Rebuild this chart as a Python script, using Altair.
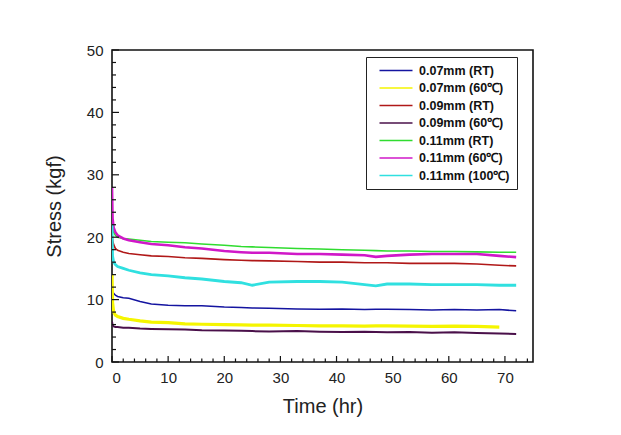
import altair as alt
import pandas as pd

series = ["0.07mm (RT)", "0.07mm (60℃)", "0.09mm (RT)", "0.09mm (60℃)",
          "0.11mm (RT)", "0.11mm (60℃)", "0.11mm (100℃)"]
colors = ["#1414A0", "#F5F500", "#B01818", "#4A104A", "#30DC30", "#D018C8", "#30E0E0"]
widths = [1.5, 3.2, 1.6, 2.0, 1.6, 2.6, 2.8]

time = [0, 0.1, 0.3, 0.6, 1, 2, 3, 5, 7, 10, 13, 16, 20, 23, 25, 28, 33, 37, 41,
        45, 47, 49, 53, 57, 61, 65, 69, 72]

blue_07_rt = [11.5, 11.2, 11.0, 10.7, 10.5, 10.3, 10.2, 9.7, 9.3, 9.1, 9.0, 9.0, 8.8, 8.75,
              8.65, 8.6, 8.5, 8.45, 8.5, 8.4, 8.45, 8.45, 8.4, 8.35, 8.4, 8.35, 8.4, 8.2]
yellow_07_60 = [14.0, 9.5, 8.0, 7.5, 7.3, 7.0, 6.85, 6.6, 6.4, 6.3, 6.1, 6.05, 6.0, 5.95,
                5.9, 5.9, 5.85, 5.8, 5.8, 5.75, 5.8, 5.8, 5.75, 5.7, 5.75, 5.7, 5.6, None]
red_09_rt = [20.5, 19.5, 18.8, 18.2, 17.9, 17.6, 17.4, 17.2, 17.0, 16.9, 16.7, 16.6, 16.4, 16.3,
             16.25, 16.2, 16.1, 16.0, 16.0, 15.9, 15.9, 15.9, 15.8, 15.8, 15.8, 15.7, 15.5, 15.4]
purple_09_60 = [6.5, 5.9, 5.7, 5.6, 5.6, 5.5, 5.5, 5.35, 5.3, 5.25, 5.2, 5.1, 5.05, 5.0,
                4.95, 4.9, 4.95, 4.85, 4.8, 4.85, 4.8, 4.75, 4.8, 4.7, 4.75, 4.65, 4.55, 4.5]
green_11_rt = [22.0, 21.5, 20.8, 20.3, 20.0, 19.8, 19.7, 19.5, 19.3, 19.2, 19.1, 18.9, 18.7, 18.5,
               18.45, 18.35, 18.2, 18.1, 18.0, 17.9, 17.85, 17.8, 17.8, 17.7, 17.7, 17.65, 17.6, 17.6]
magenta_11_60 = [28.0, 23.0, 21.5, 20.8, 20.3, 19.8, 19.5, 19.2, 18.9, 18.7, 18.4, 18.2, 17.8, 17.6,
                 17.5, 17.5, 17.3, 17.3, 17.2, 17.1, 16.85, 17.0, 17.2, 17.3, 17.3, 17.3, 17.0, 16.8]
cyan_11_100 = [22.0, 17.0, 16.0, 15.6, 15.3, 15.0, 14.7, 14.3, 14.0, 13.8, 13.5, 13.3, 12.9, 12.7,
               12.3, 12.8, 12.9, 12.9, 12.8, 12.4, 12.2, 12.5, 12.5, 12.4, 12.4, 12.4, 12.3, 12.3]

values = [blue_07_rt, yellow_07_60, red_09_rt, purple_09_60, green_11_rt, magenta_11_60, cyan_11_100]

rows = []
for name, vals in zip(series, values):
    for t, v in zip(time, vals):
        if v is not None:
            rows.append({"series": name, "time": t, "stress": v})
df = pd.DataFrame(rows)

x_major = [0, 10, 20, 30, 40, 50, 60, 70]
x_minor = [v for v in range(2, 75, 2) if v % 10 != 0]
y_major = [0, 10, 20, 30, 40, 50]
y_minor = [v for v in range(2, 50, 2) if v % 10 != 0]

W, H = 421, 312
FONT = "Liberation Sans"

xs = alt.Scale(domain=[0, 75], nice=False)
ys = alt.Scale(domain=[0, 50], nice=False)
cs = alt.Scale(domain=series, range=colors)

x_axis = alt.Axis(values=x_major, ticks=False, grid=False, domain=False,
                  labelPadding=8, labelFontSize=15, labelFont=FONT, labelColor="#222",
                  titleFont=FONT, titleFontSize=20, titleFontWeight="normal",
                  titleColor="#222", titlePadding=11)
y_axis = alt.Axis(values=y_major, ticks=False, grid=False, domain=False,
                  labelPadding=9, labelFontSize=15, labelFont=FONT, labelColor="#222",
                  titleFont=FONT, titleFontSize=20, titleFontWeight="normal",
                  titleColor="#222", titlePadding=22)
legend = alt.Legend(orient="none", legendX=254, legendY=7,
                    symbolType="M0,0H6", symbolSize=121,
                    symbolStrokeWidth=1.6, labelFont=FONT,
                    labelFontSize=12.5, labelFontWeight="bold",
                    labelColor="#111", labelOffset=33, rowPadding=4.5,
                    padding=7, strokeColor="#222", fillColor="white",
                    labelLimit=200)

line_layers = []
for name, w in zip(series, widths):
    line_layers.append(
        alt.Chart(df).transform_filter(alt.datum.series == name)
        .mark_line(clip=True, strokeWidth=w).encode(
            x=alt.X("time:Q", scale=xs, title="Time (hr)", axis=x_axis),
            y=alt.Y("stress:Q", scale=ys, title="Stress (kgf)", axis=y_axis),
            color=alt.Color("series:N", scale=cs, sort=series, title=None, legend=legend),
            order="time:Q",
        )
    )

xmaj = alt.Chart(pd.DataFrame({"v": x_major})).mark_rule(color="#111", strokeWidth=1.2).encode(
    x=alt.X("v:Q", scale=xs, title="Time (hr)", axis=x_axis), y=alt.value(H), y2=alt.value(H - 6))
xmin = alt.Chart(pd.DataFrame({"v": x_minor})).mark_rule(color="#111", strokeWidth=1.2).encode(
    x=alt.X("v:Q", scale=xs, title="Time (hr)", axis=x_axis), y=alt.value(H), y2=alt.value(H - 3.5))
ymaj = alt.Chart(pd.DataFrame({"v": y_major})).mark_rule(color="#111", strokeWidth=1.2).encode(
    y=alt.Y("v:Q", scale=ys, title="Stress (kgf)", axis=y_axis), x=alt.value(0), x2=alt.value(7))
ymin = alt.Chart(pd.DataFrame({"v": y_minor})).mark_rule(color="#111", strokeWidth=1.2).encode(
    y=alt.Y("v:Q", scale=ys, title="Stress (kgf)", axis=y_axis), x=alt.value(0), x2=alt.value(4))

chart = alt.layer(*line_layers, xmaj, xmin, ymaj, ymin).properties(
    width=W, height=H,
    autosize=alt.AutoSizeParams(type="none"),
    padding={"left": 104, "top": 42, "right": 80, "bottom": 70},
    background="white",
).configure_view(stroke="#111", strokeWidth=1.6)

chart.save("out.html", embed_options={"renderer": "svg", "actions": False})
